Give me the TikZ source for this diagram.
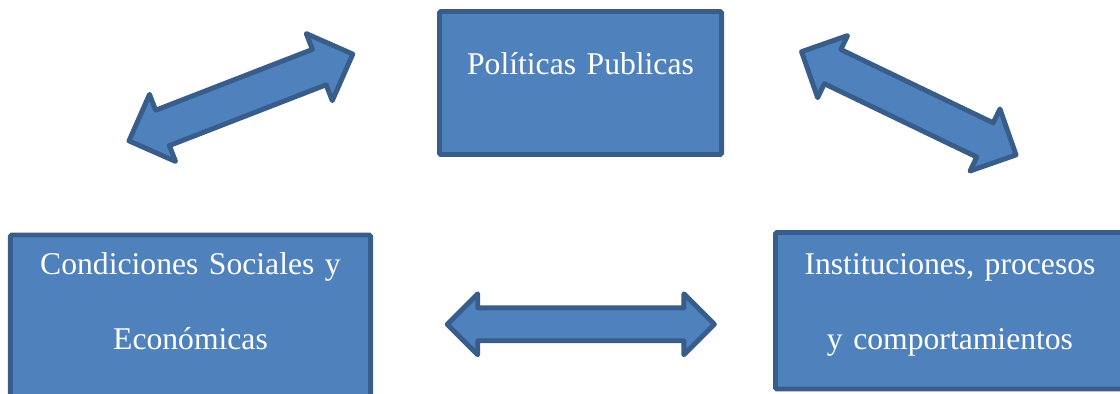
\documentclass[tikz,border=0pt]{standalone}
\usepackage{fontspec}
\setmainfont{Liberation Serif}
\usetikzlibrary{shapes, arrows}
\definecolor{boxblue}{RGB}{79, 129, 189}
\definecolor{edgeblue}{RGB}{56, 93, 138}

\begin{document}
\begin{tikzpicture}[x=0.025cm, y=-0.025cm,
        block/.style={rectangle, draw=edgeblue, fill=boxblue, line width=3.5pt, rounded corners=1pt, inner sep=0pt, align=center, text=white, font=\fontsize{22.5}{53.2}\selectfont},
        link/.style={double arrow, draw=edgeblue, fill=boxblue, line width=3.5pt, line join=round, inner xsep=0pt, double arrow tip angle=90}
    ]
        \useasboundingbox (0,0) rectangle (1120,394);
        \clip (0,0) rectangle (1120,394);

        \node[block, text width=7.05cm, text height=1.5875cm, text depth=1.9875cm] (politicas) at (580.5,83) {Políticas Publicas};
        \node[block, text width=9cm, text height=1cm, text depth=3.5cm] (condiciones) at (190.5,325) {Condiciones Sociales y\\Económicas};
        \node[block, text width=8.725cm, text height=1.045cm, text depth=2.8675cm] (instituciones) at (950,310.75) {Instituciones, procesos\\y comportamientos};

        \node[link, rotate=21.2, minimum height=6cm, minimum width=1.675cm, inner ysep=0.4125cm, double arrow head extend=0.425cm] (linkleft) at (240.9,97.5) {};
        \node[link, rotate=-25.7, minimum height=5.95cm, minimum width=1.6cm, inner ysep=0.4125cm, double arrow head extend=0.3875cm] (linkright) at (908.8,103.3) {};
        \node[link, minimum height=6.675cm, minimum width=1.4cm, inner ysep=0.35cm, double arrow head extend=0.35cm] (linkbottom) at (580.8,324.3) {};
    \end{tikzpicture}
\end{document}
